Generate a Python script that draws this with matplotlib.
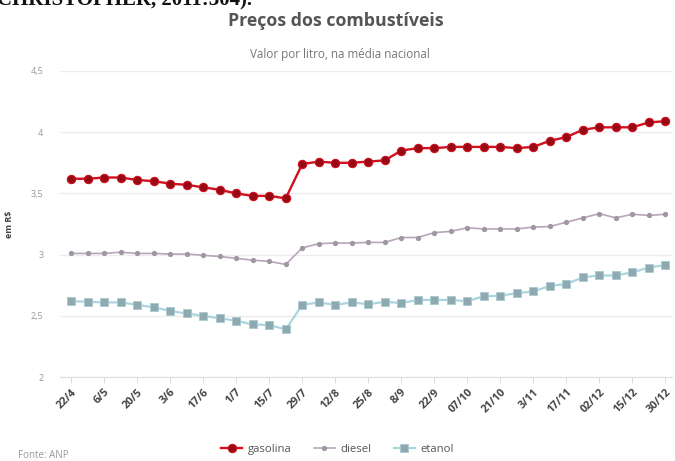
import numpy as np
import matplotlib
matplotlib.use("Agg")
import matplotlib.pyplot as plt

plt.rcParams["font.family"] = ["Open Sans", "DejaVu Sans"]

# weekly national averages (R$ per litre)
tick_labels = ["22/4", "6/5", "20/5", "3/6", "17/6", "1/7", "15/7", "29/7", "12/8",
               "25/8", "8/9", "22/9", "07/10", "21/10", "3/11", "17/11", "02/12",
               "15/12", "30/12"]

gasolina = [3.62, 3.62, 3.63, 3.63, 3.61, 3.60, 3.58, 3.57, 3.55, 3.53, 3.50, 3.48,
            3.48, 3.46, 3.74, 3.76, 3.75, 3.75, 3.76, 3.77, 3.85, 3.87, 3.87, 3.88,
            3.88, 3.88, 3.88, 3.87, 3.88, 3.93, 3.96, 4.02, 4.04, 4.04, 4.04, 4.08,
            4.09]
diesel = [3.01, 3.01, 3.01, 3.02, 3.01, 3.01, 3.005, 3.005, 2.995, 2.985, 2.97, 2.955,
          2.945, 2.92, 3.055, 3.09, 3.095, 3.095, 3.10, 3.10, 3.14, 3.14, 3.18, 3.19,
          3.22, 3.21, 3.21, 3.21, 3.225, 3.23, 3.265, 3.30, 3.335, 3.30, 3.33, 3.32,
          3.33]
etanol = [2.62, 2.615, 2.61, 2.61, 2.59, 2.57, 2.54, 2.52, 2.50, 2.48, 2.46, 2.43,
          2.425, 2.39, 2.59, 2.61, 2.59, 2.61, 2.595, 2.615, 2.605, 2.63, 2.63, 2.63,
          2.62, 2.66, 2.665, 2.685, 2.70, 2.745, 2.76, 2.815, 2.83, 2.83, 2.855, 2.895,
          2.915]

y_ticks = [2, 2.5, 3, 3.5, 4, 4.5]

x = np.arange(len(gasolina))

fig = plt.figure(figsize=(6.75, 4.61), dpi=100)
ax = fig.add_axes([0.089, 0.182, 0.907, 0.664])

ax.plot(x, gasolina, color="#d0101e", lw=1.7, marker="o", ms=6,
        mfc="#960915", mec="#d0101e", mew=0.8, label="gasolina", zorder=4)
ax.plot(x, diesel, color="#b9a4b9", lw=1.2, marker="o", ms=2.8,
        mfc="#9c9aa0", mec="#9c9aa0", label="diesel", zorder=3)
ax.plot(x, etanol, color="#a9d6de", lw=1.6, marker="s", ms=5.2,
        mfc="#8fa9b0", mec="#a9c9d0", mew=0.6, label="etanol", zorder=3)

ax.set_ylim(2, 4.5)
ax.set_xlim(-0.67, 36.42)
ax.set_yticks(y_ticks)
ax.set_yticklabels([f"{v:g}".replace(".", ",") for v in y_ticks])
ax.set_xticks(x[::2])
ax.set_xticklabels(tick_labels, rotation=45, ha="right", rotation_mode="anchor")

ax.grid(axis="y", color="#ececec", lw=1)
ax.set_axisbelow(True)
for s in ["top", "right", "left"]:
    ax.spines[s].set_visible(False)
ax.spines["bottom"].set_color("#dddddd")
ax.tick_params(axis="y", length=0, labelsize=6.5, labelcolor="#999999", pad=12)
ax.tick_params(axis="x", length=4, color="#dddddd", labelsize=7.8, labelcolor="#444444", pad=3)
for lbl in ax.get_xticklabels():
    lbl.set_fontweight("bold")

ax.set_ylabel("em R$", fontsize=6.5, fontweight="bold", color="#444444", labelpad=12)

fig.text(0.497, 0.955, "Preços dos combustíveis", ha="center", va="center",
         fontsize=12.8, fontweight="bold", color="#555555")
fig.text(0.503, 0.882, "Valor por litro, na média nacional", ha="center", va="center",
         fontsize=8.4, color="#777777")
fig.text(0.027, 0.012, "Fonte: ANP", ha="left", va="center", fontsize=7, color="#999999")
fig.text(-0.005, 1.0, "CHRISTOPHER, 2011:304).", ha="left", va="center",
         fontsize=15, fontweight="bold", color="#111111", family="Liberation Serif")

fig.legend(loc="center", bbox_to_anchor=(0.5, 0.026), ncol=3, frameon=False,
           fontsize=8.2, labelcolor="#555555", handlelength=1.8, columnspacing=2.0,
           handletextpad=0.5)

fig.savefig("out.png", dpi=100)
